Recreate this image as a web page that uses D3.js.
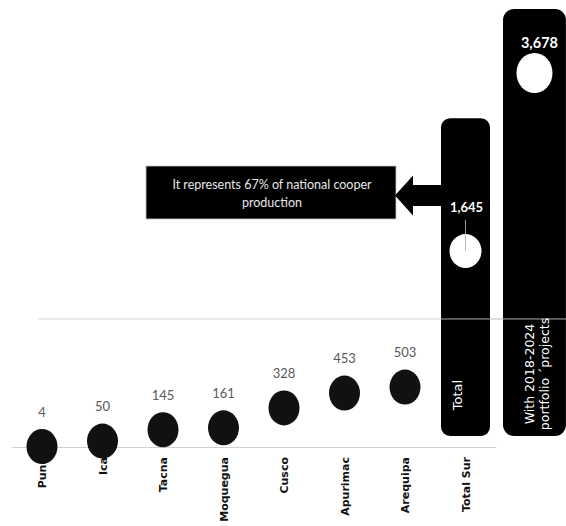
<!DOCTYPE html>
<html>
<head>
<meta charset="utf-8">
<script src="https://cdn.jsdelivr.net/npm/d3@7"></script>
<style>
  html, body { margin: 0; padding: 0; background: #fff; }
  svg { display: block; }
</style>
</head>
<body>
<svg id="chart" width="566" height="526"></svg>
<script>
// Copper production by southern region (thousand tonnes)
const regions = ["Puno", "Ica", "Tacna", "Moquegua", "Cusco", "Apurimac", "Arequipa"];
const regionValues = [4, 50, 145, 161, 328, 453, 503];
const totalCategory = "Total Sur";
const totalValue = 1645;
const portfolioValue = 3678;
const portfolioLines = ["With 2018-2024", "portfolio \u00b4projects"];
const totalColumnText = "Total";
const noteLines = ["It represents 67% of national cooper", "production"];
// heights of the two rounded columns (Total, portfolio)
const columnTops = [2760, 3678];
// horizontal reference line
const referenceValues = [1075];

const W = 566, H = 526;
const svg = d3.select("#chart");

const categories = [...regions, totalCategory];
const x = d3.scaleBand().domain(categories).range([11.75, 495.75]).padding(0);
const cx = d => x(d) + x.bandwidth() / 2;
const y = d3.scaleLinear().domain([0, portfolioValue]).range([447, 9]);

const step = x.step();
const totalCx = cx(totalCategory);
const totalW = step * 0.81;
const portCx = totalCx + step * 1.14;
const portW = step * 1.04;
const columnBottom = y(0) - 11;

// reference line and baseline
svg.append("g").selectAll("line.ref").data(referenceValues).join("line")
  .attr("x1", 38).attr("x2", W)
  .attr("y1", d => y(d)).attr("y2", d => y(d))
  .attr("stroke", "#d4d4d4").attr("stroke-width", 1);

// rounded columns
const columns = [
  { cx: totalCx, w: totalW, top: columnTops[0], r: 9 },
  { cx: portCx, w: portW, top: columnTops[1], r: 11 }
];
svg.append("g").selectAll("rect").data(columns).join("rect")
  .attr("x", d => d.cx - d.w / 2)
  .attr("y", d => y(d.top))
  .attr("width", d => d.w)
  .attr("height", d => columnBottom - y(d.top))
  .attr("rx", d => d.r).attr("ry", d => d.r)
  .attr("fill", "#000");

// reference line shows faintly across the columns
svg.append("g").selectAll("line.ref2").data(referenceValues).join("line")
  .attr("x1", totalCx - totalW / 2).attr("x2", W)
  .attr("y1", d => y(d)).attr("y2", d => y(d))
  .attr("stroke", "#cfcfcf").attr("stroke-width", 1).attr("opacity", 0.85);

// baseline axis
const axis = svg.append("g").attr("transform", `translate(0,${y(0)})`)
  .call(d3.axisBottom(x).tickSize(0).tickFormat(""));
axis.select(".domain").attr("stroke", "#d0d0d0").attr("stroke-width", 1.2);

// category labels (rotated)
svg.append("g").selectAll("text").data(categories).join("text")
  .attr("transform", d => `translate(${cx(d) + 4},457) rotate(-90)`)
  .attr("text-anchor", "end")
  .attr("font-family", "'DejaVu Sans', sans-serif")
  .attr("font-weight", "bold")
  .attr("font-size", 11)
  .attr("fill", "#111")
  .text(d => d);

// text inside columns
svg.append("text")
  .attr("transform", `translate(${totalCx - 3.5},${y(0) - 52}) rotate(-90)`)
  .attr("text-anchor", "middle")
  .attr("font-family", "'DejaVu Sans', sans-serif")
  .attr("font-size", 13)
  .attr("fill", "#fff")
  .text(totalColumnText);

svg.append("g").selectAll("text").data(portfolioLines).join("text")
  .attr("transform", (d, i) => `translate(${portCx - 0.5 + i * 15},${y(0) - 73}) rotate(-90)`)
  .attr("text-anchor", "middle")
  .attr("font-family", "'DejaVu Sans', sans-serif")
  .attr("font-size", 12.5)
  .attr("fill", "#fff")
  .text(d => d);

// region value labels
const fmt = d3.format(",");
svg.append("g").selectAll("text").data(regions).join("text")
  .attr("x", d => cx(d))
  .attr("y", (d, i) => y(regionValues[i]) - 30)
  .attr("text-anchor", "middle")
  .attr("font-family", "Lato, sans-serif")
  .attr("font-size", 13)
  .attr("fill", "#595959")
  .text((d, i) => fmt(regionValues[i]));

// region points
svg.append("g").selectAll("ellipse").data(regions).join("ellipse")
  .attr("cx", d => cx(d))
  .attr("cy", (d, i) => y(regionValues[i]))
  .attr("rx", 15.5).attr("ry", 17.5)
  .attr("fill", "#111");

// total point with leader and label
svg.append("line")
  .attr("x1", totalCx).attr("x2", totalCx)
  .attr("y1", y(totalValue) - 31).attr("y2", y(totalValue))
  .attr("stroke", "#9a9a9a").attr("stroke-width", 1);
svg.append("ellipse")
  .attr("cx", totalCx).attr("cy", y(totalValue))
  .attr("rx", 16).attr("ry", 17)
  .attr("fill", "#fff");
svg.append("line")
  .attr("x1", totalCx).attr("x2", totalCx)
  .attr("y1", y(totalValue) - 17).attr("y2", y(totalValue))
  .attr("stroke", "#bbbbbb").attr("stroke-width", 1);
svg.append("text")
  .attr("x", totalCx + 1).attr("y", y(totalValue) - 39)
  .attr("text-anchor", "middle")
  .attr("font-family", "Lato, sans-serif")
  .attr("font-weight", "bold")
  .attr("font-size", 13)
  .attr("fill", "#fff")
  .text(fmt(totalValue));

// portfolio point, inset below the column top
const portDotY = y(portfolioValue) + 64;
svg.append("ellipse")
  .attr("cx", portCx).attr("cy", portDotY)
  .attr("rx", 18).attr("ry", 20)
  .attr("fill", "#fff");
svg.append("text")
  .attr("x", portCx + 5).attr("y", portDotY - 25.5)
  .attr("text-anchor", "middle")
  .attr("font-family", "Lato, sans-serif")
  .attr("font-weight", "bold")
  .attr("font-size", 14.5)
  .attr("fill", "#fff")
  .text(fmt(portfolioValue));

// callout box with arrow pointing from the Total column
const colLeft = totalCx - totalW / 2;
const boxRight = colLeft - 45, boxW = 250, boxTop = 166, boxH = 53;
svg.append("rect")
  .attr("x", boxRight - boxW).attr("y", boxTop)
  .attr("width", boxW).attr("height", boxH)
  .attr("fill", "#000").attr("stroke", "#c8c8c8").attr("stroke-width", 0.8);
svg.append("g").selectAll("text").data(noteLines).join("text")
  .attr("x", boxRight - boxW / 2 + 1)
  .attr("y", (d, i) => boxTop + 23 + i * 18)
  .attr("text-anchor", "middle")
  .attr("font-family", "Lato, sans-serif")
  .attr("font-size", 12.5)
  .attr("fill", "#e8e8e8")
  .text(d => d);

const ay = 195.5;
const p = d3.path();
p.moveTo(colLeft + 0.5, ay - 10.5);
p.lineTo(boxRight + 17, ay - 10.5);
p.lineTo(boxRight + 17, ay - 20);
p.lineTo(boxRight - 1, ay);
p.lineTo(boxRight + 17, ay + 20);
p.lineTo(boxRight + 17, ay + 10.5);
p.lineTo(colLeft + 0.5, ay + 10.5);
p.closePath();
svg.append("path").attr("d", p.toString()).attr("fill", "#000");
</script>
</body>
</html>
